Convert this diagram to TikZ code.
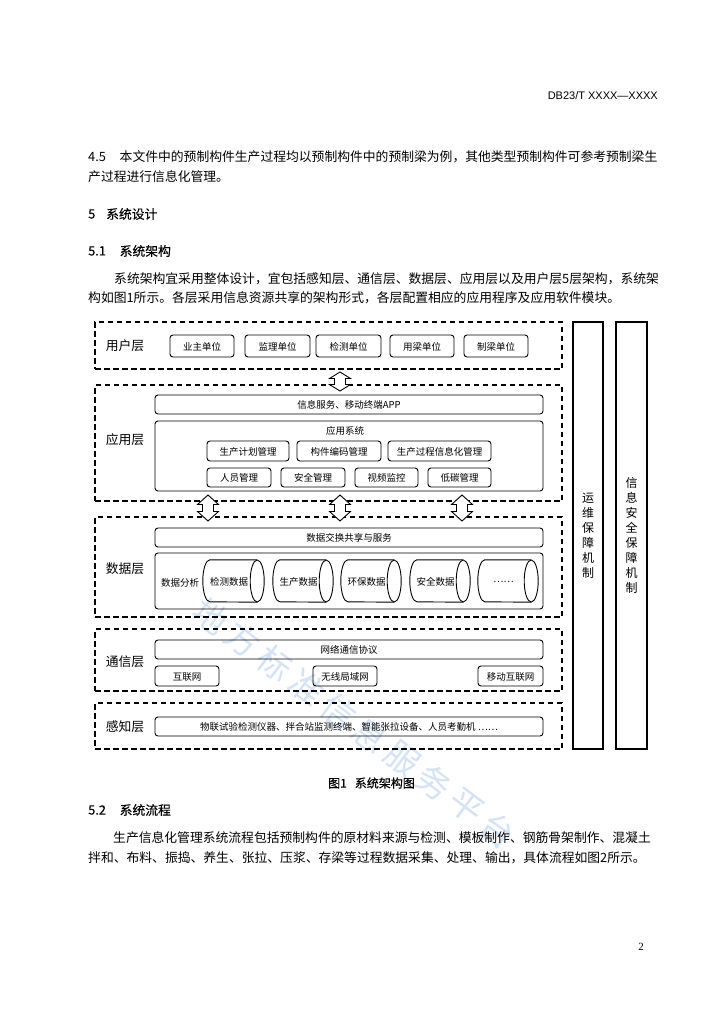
\documentclass[tikz,border=0pt]{standalone}
\usepackage{fontspec}
\setmainfont{Noto Sans CJK SC}
\newfontfamily\hdrfont{Liberation Sans}
\newfontfamily\numfont{Liberation Serif}
\newfontfamily\headfont[FakeBold=0.3]{Noto Sans CJK SC}
\usetikzlibrary{fit,calc}
\definecolor{wmcolor}{RGB}{212,227,245}
\tikzset{
  layer/.style={draw, line width=1.1pt, dash pattern=on 5.5pt off 3.5pt, inner sep=0pt},
  rbox/.style={draw, line width=0.9pt, rounded corners=3pt, inner sep=0pt},
  sidebox/.style={draw, line width=1.1pt, inner sep=0pt},
  lab/.style={font=\fontsize{12.8}{14}\selectfont, inner sep=0pt},
  small/.style={font=\fontsize{9.5}{11}\selectfont, inner sep=0pt},
  vtext/.style={font=\fontsize{12}{15}\selectfont, align=center, inner sep=0pt},
  body/.style={font=\fontsize{12.8}{15}\selectfont, anchor=west, inner sep=0pt},
  head/.style={font=\headfont\fontsize{12.8}{15}\selectfont, anchor=west, inner sep=0pt},
  captxt/.style={font=\headfont\fontsize{12}{14}\selectfont, inner sep=0pt},
  hdr/.style={font=\hdrfont\fontsize{11}{13}\selectfont, inner sep=0pt, anchor=east},
  pg/.style={font=\numfont\fontsize{11}{13}\selectfont, inner sep=0pt},
  cylline/.style={line width=0.9pt},
  blockarr/.style={draw, line width=0.9pt, fill=white, line join=miter},
  wm/.style={font=\fontsize{34}{34}\selectfont, text=wmcolor, inner sep=0pt, rotate=-37},
}
\newcommand\bx[4]{%
  \node[rbox, fit={#2 #3}] (#1) {};
  \node[small] (#1t) at ($(#1.center)+(0pt,-0.6pt)$) {#4};}
\newcommand\udarrow[4]{%
  \draw[blockarr] (#1) ++(0pt,#2pt) -- ++(10.5pt,-#3pt) -- ++(-5pt,0pt) -- ++(0pt,-#4pt)
    -- ++(5pt,0pt) -- ++(-10.5pt,-#3pt) -- ++(-10.5pt,#3pt) -- ++(5pt,0pt)
    -- ++(0pt,#4pt) -- ++(-5pt,0pt) -- cycle;}
\newcommand\cyl[4]{%
  \node[inner sep=0pt, fit={(#2,560) (#3,602)}] (#1) {};
  \draw[cylline] ($(#1.north east)+(-7pt,0pt)$) -- ($(#1.north west)+(7pt,0pt)$)
    arc[start angle=90,end angle=270,x radius=7pt,y radius=21pt] -- ($(#1.south east)+(-7pt,0pt)$);
  \draw[cylline] ($(#1.east)+(-7pt,0pt)$) ellipse[x radius=7pt,y radius=21pt];
  \node[small] (#1t) at ($(#1.center)+(-4.5pt,-0.8pt)$) {#4};}
\begin{document}
\begin{tikzpicture}[x=1pt,y=-1pt]
\fill[white] (0,0) rectangle (724,1024);
\useasboundingbox (0,0) rectangle (724,1024);

% watermark
\foreach \c [count=\i from 0] in {地,方,标,准,信,息,服,务,平,台}
  \node[wm] (wm\i) at ({211+31.9*\i},{616+23.8*\i}) {\c};

% page text
\node[hdr] (hdr) at (658,96) {DB23/T XXXX—XXXX};
\node[body] (t45n) at (88,157) {4.5};
\node[body] (t45) at (119.5,157) {本文件中的预制构件生产过程均以预制构件中的预制梁为例，其他类型预制构件可参考预制梁生};
\node[body] (t45b) at (88,177) {产过程进行信息化管理。};
\node[head] (h5n) at (88,214) {5};
\node[head] (h5) at (106,214) {系统设计};
\node[head] (h51n) at (88,251) {5.1};
\node[head] (h51) at (119.5,251) {系统架构};
\node[body] (p1a) at (114,279) {系统架构宜采用整体设计，宜包括感知层、通信层、数据层、应用层以及用户层5层架构，系统架};
\node[body] (p1b) at (88,298) {构如图1所示。各层采用信息资源共享的架构形式，各层配置相应的应用程序及应用软件模块。};

% layers
\node[layer, fit={(95,322) (562,369)}] (ul) {};
\node[layer, fit={(95,385) (562,501)}] (al) {};
\node[layer, fit={(95,517) (562,617)}] (dl) {};
\node[layer, fit={(95,629) (562,691)}] (cl) {};
\node[layer, fit={(95,703) (562,749)}] (sl) {};

\node[lab] (ullab) at (125,346) {用户层};
\node[lab] (allab) at (125,440) {应用层};
\node[lab] (dllab) at (125,569) {数据层};
\node[lab] (cllab) at (125,662) {通信层};
\node[lab] (sllab) at (125,727) {感知层};

% block arrows
\coordinate (ar0) at (340,381.5);
\coordinate (ar1) at (208,508);
\coordinate (ar2) at (340,508);
\coordinate (ar3) at (462,508);
\udarrow{ar0}{9.5}{6.5}{6}
\udarrow{ar1}{13}{9.5}{7}
\udarrow{ar2}{13}{9.5}{7}
\udarrow{ar3}{13}{9.5}{7}

% user layer
\bx{u1}{(170,335)}{(234,357)}{业主单位}
\bx{u2}{(245,335)}{(310,357)}{监理单位}
\bx{u3}{(316,335)}{(381,357)}{检测单位}
\bx{u4}{(390,335)}{(454,357)}{用梁单位}
\bx{u5}{(464,335)}{(528,357)}{制梁单位}

% application layer
\bx{info}{(155,395)}{(543,414)}{信息服务、移动终端APP}
\node[rbox, fit={(155,421) (543,491)}] (appsys) {};
\node[small] (appt) at (345,431) {应用系统};
\bx{a1}{(207,441)}{(289,461)}{生产计划管理}
\bx{a2}{(297,441)}{(381,461)}{构件编码管理}
\bx{a3}{(388,441)}{(491,461)}{生产过程信息化管理}
\bx{a4}{(207,468)}{(271,487)}{人员管理}
\bx{a5}{(281,468)}{(345,487)}{安全管理}
\bx{a6}{(355,468)}{(418,487)}{视频监控}
\bx{a7}{(428,468)}{(491,487)}{低碳管理}

% data layer
\bx{dx}{(155,528)}{(543,547)}{数据交换共享与服务}
\node[rbox, fit={(155,553) (543,609)}] (dbox) {};
\node[small] (dfx) at (180,582.5) {数据分析};
\cyl{c1}{203}{264}{检测数据}
\cyl{c2}{273}{333}{生产数据}
\cyl{c3}{341}{401}{环保数据}
\cyl{c4}{410}{470}{安全数据}
\cyl{c5}{478}{538}{……}

% communication layer
\bx{net}{(155,640)}{(543,659)}{网络通信协议}
\bx{n1}{(155,666)}{(219,686)}{互联网}
\bx{n2}{(313,666)}{(377,686)}{无线局域网}
\bx{n3}{(478,666)}{(543,686)}{移动互联网}

% sensing layer
\bx{sen}{(155,717)}{(543,736)}{物联试验检测仪器、拌合站监测终端、智能张拉设备、人员考勤机 ……}

% side boxes
\node[sidebox, fit={(573,322) (603,749)}] (ops) {};
\node[vtext] (opst) at (ops.center) {运\\维\\保\\障\\机\\制};
\node[sidebox, fit={(616,322) (647,749)}] (sec) {};
\node[vtext] (sect) at (sec.center) {信\\息\\安\\全\\保\\障\\机\\制};

% caption and following text
\node[captxt] (cap) at (371.5,783) {图1\hspace{8pt}系统架构图};
\node[head] (h52n) at (88,810) {5.2};
\node[head] (h52) at (119.5,810) {系统流程};
\node[body] (p2a) at (113,838) {生产信息化管理系统流程包括预制构件的原材料来源与检测、模板制作、钢筋骨架制作、混凝土};
\node[body] (p2b) at (88,858) {拌和、布料、振捣、养生、张拉、压浆、存梁等过程数据采集、处理、输出，具体流程如图2所示。};
\node[pg] (pgno) at (641,947) {2};
\end{tikzpicture}
\end{document}
